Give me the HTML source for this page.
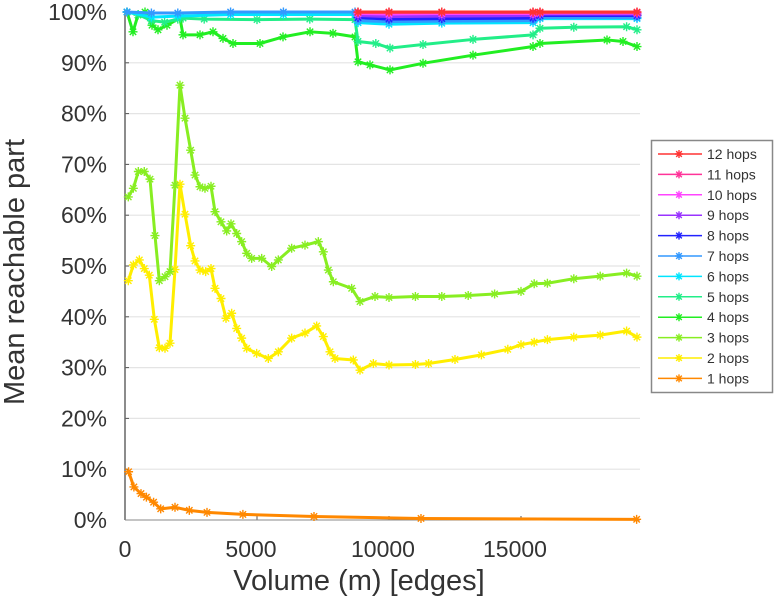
<!DOCTYPE html>
<html><head><meta charset="utf-8"><style>
body{margin:0;background:#fff;}
svg{display:block;font-family:"Liberation Sans",sans-serif;}
</style></head><body>
<svg id="chart" width="775" height="600">
<g id="grid"></g>
<g id="axes"></g>
<g id="series"></g>
<g id="legend"></g>
<text x="24" y="272" font-size="29" fill="#333" text-anchor="middle" transform="rotate(-90 24 272)">Mean reachable part</text>
<text x="359" y="590" font-size="29" fill="#333" text-anchor="middle">Volume (m) [edges]</text>
</svg>
<script>
const xTicks=[0,5000,10000,15000];
const yTicks=[0,10,20,30,40,50,60,70,80,90,100];
const seriesNames=["12 hops","11 hops","10 hops","9 hops","8 hops","7 hops","6 hops","5 hops","4 hops","3 hops","2 hops","1 hops"];
const h1x=[136,337,606,811,1083,1352,1894,2436,3106,4466,7159,11212,19380];
const h1y=[9.5,6.5,5.2,4.5,3.5,2.2,2.5,1.9,1.5,1.1,0.7,0.3,0.13];
const h2x=[125,316,543,730,920,1111,1300,1515,1705,1894,2083,2273,2487,2652,2841,3055,3258,3409,3636,3826,4040,4230,4419,4609,4987,5429,5808,6313,6818,7260,7512,7765,7955,8648,8902,9407,10000,11000,11500,12500,13500,14500,15000,15500,16000,17000,18000,19000,19394];
const h2y=[47.1,50.2,51.2,49.5,48.2,39.5,33.9,33.8,34.8,49.3,66.1,60.2,54.0,51.0,49.2,48.9,49.5,45.6,43.6,39.7,40.7,37.7,35.8,33.8,32.8,31.8,33.1,35.8,36.8,38.2,36.1,33.1,31.8,31.5,29.5,30.8,30.5,30.6,30.8,31.6,32.5,33.6,34.5,35.0,35.5,36.0,36.4,37.2,36.0];
const h3x=[125,316,505,730,947,1136,1300,1515,1705,1894,2083,2273,2487,2652,2841,3030,3258,3409,3636,3851,4015,4230,4419,4609,4798,5177,5556,5808,6313,6818,7323,7512,7702,7891,8585,8902,9470,10000,11000,12000,13000,14000,15000,15500,16000,17000,18000,19000,19394];
const h3y=[63.6,65.3,68.6,68.6,67.1,56.0,47.1,47.9,48.9,65.9,85.6,79.1,72.8,67.9,65.6,65.3,65.7,60.7,58.7,56.9,58.3,56.4,54.8,52.5,51.5,51.5,49.9,51.2,53.5,54.1,54.8,52.8,49.2,46.9,45.6,43.0,44.0,43.8,44.0,44.0,44.2,44.5,45.0,46.5,46.6,47.5,48.0,48.6,48.0];
const h4x=[76,303,492,758,1023,1250,1591,2083,2197,2841,3333,3712,4091,5114,5985,7008,7879,8712,8826,9280,10038,11288,13182,15455,15720,18258,18864,19394];
const h4y=[100,96.1,99.4,100,97.4,96.5,97.4,98.8,95.5,95.5,96.1,94.8,93.8,93.8,95.1,96.1,95.8,95.1,90.2,89.6,88.6,89.9,91.5,93.2,93.8,94.5,94.2,93.2];
const h5x=[76,500,1000,1500,2000,2200,3000,5000,7000,8712,8826,9500,10038,11288,13182,15455,15720,17000,19000,19394];
const h5y=[100,99.5,98.3,98.0,98.6,98.8,98.6,98.5,98.6,98.5,94.2,93.8,92.9,93.6,94.6,95.5,96.8,97.0,97.1,96.5];
const h67x=[76,1000,2000,4000,6000,8712,8826,10000,12000,15455,15720,19394];
const h6y=[100,99.0,99.2,99.5,99.5,99.5,97.9,97.6,97.8,97.9,98.7,98.7];
const h7y=[100,99.8,99.8,100,100,100,98.3,98.1,98.2,98.3,98.9,98.9];
const hHx=[8826,10000,12000,15455,15720,19394];
const h8y=[98.9,98.6,98.7,98.8,99.3,99.3];
const h9y=[99.3,99.1,99.2,99.3,99.6,99.6];
const h10y=[99.7,99.6,99.7,99.7,99.8,99.8];
const h11y=[99.9,99.9,99.9,99.9,99.9,99.9];
const h12y=[100,100,100,100,100,100];

const NS="http://www.w3.org/2000/svg";
const X0=125,XS=0.0264,Y0=520,YS=5.08;
function xs(v){return X0+v*XS;}
function ys(v){return Y0-v*YS;}
function mk(tag,attrs,parent){const e=document.createElementNS(NS,tag);for(const k in attrs)e.setAttribute(k,attrs[k]);parent.appendChild(e);return e;}

const grid=document.getElementById('grid'),axes=document.getElementById('axes');
yTicks.forEach(t=>{
  if(t>0){const g=mk('line',{x1:X0,x2:640,y1:ys(t),y2:ys(t),stroke:'#e4e4e4','stroke-width':1.2},grid);
  
  }
  const tl=mk('text',{x:107,y:ys(t)+8,'font-size':23,fill:'#333','text-anchor':'end'},axes);
  tl.textContent=t+'%';
  
  
  const tk=mk('line',{x1:X0,x2:X0+4,y1:ys(t),y2:ys(t),stroke:'#555'},axes);
  
  
});
xTicks.forEach(t=>{
  const tl=mk('text',{x:xs(t)-(t>0?6:0),y:557,'font-size':23,fill:'#333','text-anchor':'middle'},axes);
  tl.textContent=t;
  
  
  const tk=mk('line',{x1:xs(t),x2:xs(t),y1:Y0,y2:Y0-4,stroke:'#555'},axes);
  
  
});
const ya=mk('line',{x1:X0,x2:X0,y1:10,y2:Y0,stroke:'#666','stroke-width':1.5},axes);


const xa=mk('line',{x1:X0,x2:640,y1:Y0,y2:Y0,stroke:'#888','stroke-width':1},axes);



const colors=["#ff3333","#ff3399","#ff44ff","#9933ff","#2222ff","#3399ff","#00e5ff","#22ee88","#22ee22","#88ee22","#ffee00","#ff8800"];
const data=[[hHx,h12y],[hHx,h11y],[hHx,h10y],[hHx,h9y],[hHx,h8y],[h67x,h7y],[h67x,h6y],[h5x,h5y],[h4x,h4y],[h3x,h3y],[h2x,h2y],[h1x,h1y]];

function star(g,cx,cy,r,col){
  let d='';
  for(let a=0;a<4;a++){const t=a*Math.PI/4;const dx=r*Math.cos(t),dy=r*Math.sin(t);
    d+=`M${cx-dx},${cy-dy}L${cx+dx},${cy+dy}`;}
  return mk('path',{d:d,stroke:col,'stroke-width':1.4,fill:'none'},g);
}
const sg=document.getElementById('series');
for(let i=data.length-1;i>=0;i--){
  const [xv,yv]=data[i];
  const g=mk('g',{},sg);
  
  
  const pts=xv.map((x,j)=>xs(x)+','+ys(yv[j])).join(' ');
  const pl=mk('polyline',{points:pts,fill:'none',stroke:colors[i],'stroke-width':3,'stroke-linejoin':'round'},g);
  
  
  xv.forEach((x,j)=>{const m=star(g,xs(x),ys(yv[j]),4.5,colors[i]);
    
    });
}

const lg=document.getElementById('legend');
const box=mk('rect',{x:651.5,y:140.5,width:121,height:252,fill:'#fff',stroke:'#888','stroke-width':1.5},lg);


seriesNames.forEach((n,i)=>{
  const y=154+i*20.4;
  const g=mk('g',{},lg);
  
  
  mk('line',{x1:658,x2:702,y1:y,y2:y,stroke:colors[i],'stroke-width':1.5},g);
  star(g,679,y,4,colors[i]);
  const t=mk('text',{x:707,y:y+5,'font-size':14,fill:'#333'},g);
  t.textContent=n;
});
</script>
</body></html>
